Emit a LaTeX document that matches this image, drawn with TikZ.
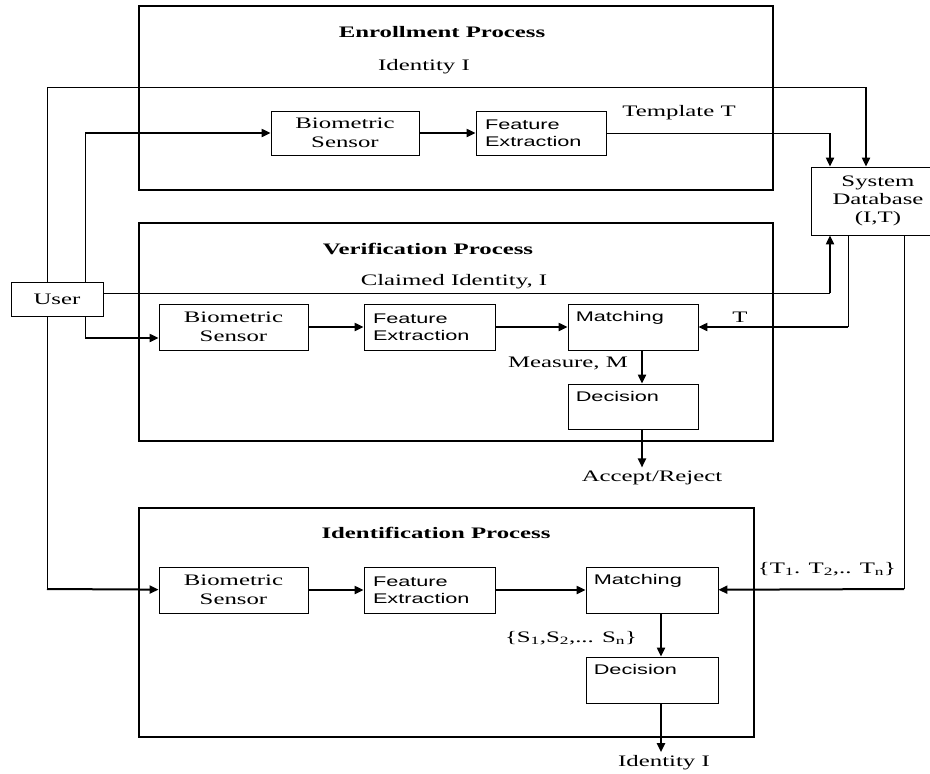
\documentclass[tikz,border=0pt]{standalone}
\usepackage{fontspec}
\setmainfont{Liberation Serif}[FakeStretch=1.55]
\newfontfamily\boxfont{Liberation Sans}[FakeStretch=1.55]
\usetikzlibrary{arrows.meta}

\begin{document}
\begin{tikzpicture}[x=1pt, y=-1pt,
    font=\fontsize{16}{19}\selectfont,
    process/.style={draw, line width=2pt, inner sep=0pt},
    block/.style={draw, line width=0.8pt, minimum height=46pt, inner sep=0pt, align=center},
    sblock/.style={block, font=\boxfont\fontsize{14}{17}\selectfont, align=left, inner xsep=9pt},
    tag/.style={anchor=north west, inner sep=8pt, font=\boxfont\fontsize{14}{17}\selectfont},
    title/.style={font=\bfseries\fontsize{16}{19}\selectfont},
    wire/.style={line width=0.8pt},
    flow/.style={line width=2pt, -{Triangle[length=9pt,width=8pt]}}]
    \useasboundingbox (0,0) rectangle (930,774);
    \node[process, minimum width=634pt, minimum height=184pt] (enroll) at (456,98) {};
    \node[process, minimum width=634pt, minimum height=218pt] (verif) at (456,332) {};
    \node[process, minimum width=615pt, minimum height=229pt] (ident) at (446.5,622.5) {};
    \node[title] (etitle) at (442,32) {Enrollment Process};
    \node[title] (vtitle) at (428,249) {Verification Process};
    \node[title] (ititle) at (436,533) {Identification Process};
    \node[block, minimum width=92pt, minimum height=34pt] (user) at (57,299) {User};
    \node[block, minimum width=134pt, minimum height=68pt, font=\fontsize{16}{18}\selectfont] (db) at (878,201) {System\\Database\\(I,T)};
    \node[block, minimum width=148pt, minimum height=44pt] (ebs) at (345,133) {Biometric\\Sensor};
    \node[sblock, text width=112pt, minimum height=44pt] (efe) at (541,133) {Feature\\Extraction};
    \node[block, minimum width=149pt] (vbs) at (233.5,327) {Biometric\\Sensor};
    \node[sblock, text width=113pt] (vfe) at (429.5,327) {Feature\\Extraction};
    \node[block, minimum width=130pt, label={[tag]north west:Matching}] (vmatch) at (633,327) {};
    \node[block, minimum width=130pt, minimum height=45pt, label={[tag]north west:Decision}] (vdec) at (633,406.5) {};
    \node[block, minimum width=149pt] (ibs) at (233.5,590) {Biometric\\Sensor};
    \node[sblock, text width=113pt] (ife) at (429.5,590) {Feature\\Extraction};
    \node[block, minimum width=132pt, label={[tag]north west:Matching}] (imatch) at (652,590) {};
    \node[block, minimum width=132pt, label={[tag]north west:Decision}] (idec) at (652,680) {};
    \node (idlabel) at (424,67) {Identity I};
    \node (tlabel) at (679,113) {Template T};
    \node (clabel) at (454,282) {Claimed Identity, I};
    \node (vtlabel) at (740,317) {T};
    \node (mlabel) at (568,363) {Measure, M};
    \node (accept) at (652,478) {Accept/Reject};
    \node (tnlabel) at (827,569) {\{T\textsubscript{1}. T\textsubscript{2},.. T\textsubscript{n}\}};
    \node (snlabel) at (571,638) {\{S\textsubscript{1},S\textsubscript{2},... S\textsubscript{n}\}};
    \node (idout) at (664,763) {Identity I};
    \coordinate (idc) at (866,87);
    \coordinate (tpc) at (830,133);
    \coordinate (clc) at (830,293);
    \coordinate (tc) at (848,327);
    \coordinate (tnc) at (904,589);
    \coordinate (lc) at (47,589);
    \coordinate (mc) at (85,338);
    \coordinate (ec) at (85,133);
    \draw[wire] ([xshift=-10pt]user.north) |- (idc);
    \draw[flow] (idc) -- (idc |- db.north);
    \draw[wire] ([xshift=28pt]user.north) -- (ec);
    \draw[flow] (ec) -- (ebs);
    \draw[flow] (ebs) -- (efe);
    \draw[wire] (efe) -- (tpc);
    \draw[flow] (tpc) -- (tpc |- db.north);
    \draw[wire] ([yshift=6pt]user.east) -- (clc);
    \draw[flow] (clc) -- (clc |- db.south);
    \draw[wire] ([xshift=28pt]user.south) -- (mc);
    \draw[flow] (mc) -- (mc -| vbs.west);
    \draw[flow] (vbs) -- (vfe);
    \draw[flow] (vfe) -- (vmatch);
    \draw[wire] (tc |- db.south) -- (tc);
    \draw[flow] (tc) -- (vmatch);
    \draw[flow] ([xshift=9pt]vmatch.south) -- ([xshift=9pt]vdec.north);
    \draw[flow] ([xshift=9pt]vdec.south) -- ([xshift=9pt]vdec.south |- accept.north);
    \draw[wire] ([xshift=-10pt]user.south) -- (lc);
    \draw[flow] (lc) -- (ibs);
    \draw[flow] (ibs) -- (ife);
    \draw[flow] (ife) -- (imatch);
    \draw[wire] (tnc |- db.south) -- (tnc);
    \draw[flow] (tnc) -- (imatch);
    \draw[flow] ([xshift=9pt]imatch.south) -- ([xshift=9pt]idec.north);
    \draw[flow] ([xshift=9pt]idec.south) -- ([xshift=9pt]idec.south |- idout.north);
\end{tikzpicture}
\end{document}
